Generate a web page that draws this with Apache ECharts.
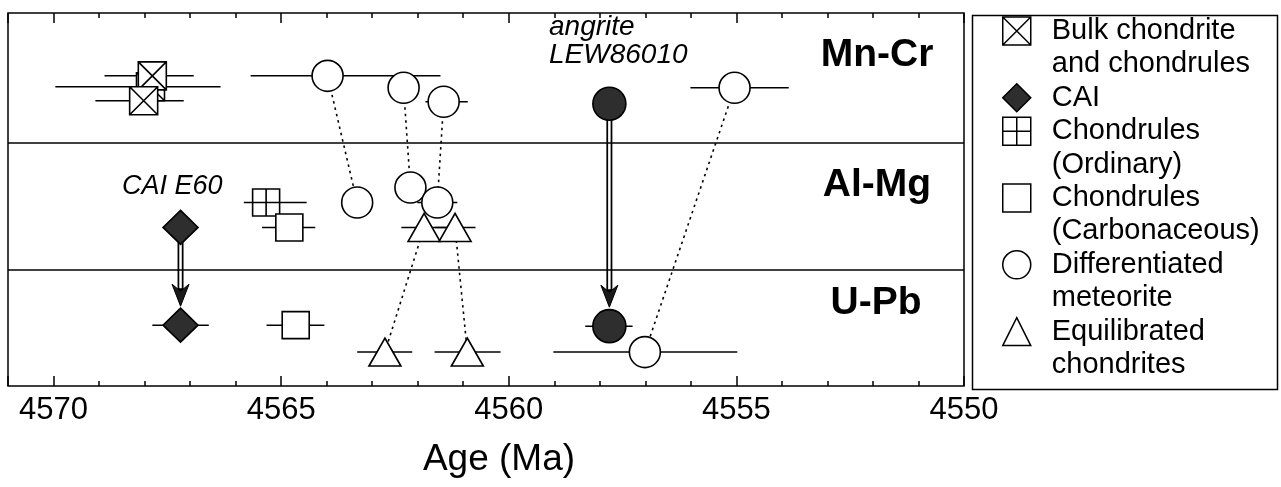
<!DOCTYPE html>
<html><head><meta charset="utf-8">
<script src="https://cdn.jsdelivr.net/npm/echarts@6/dist/echarts.min.js"></script>
<style>html,body{margin:0;padding:0;background:#fff}#c{width:1281px;height:487px}</style>
</head><body><div id="c"></div>
<script>
const FONT = '"Liberation Sans", Arial, Helvetica, sans-serif';

// ---- axis ----
const ageMin = 4550, ageMax = 4571;
const majorStep = 5, minorStep = 1;
const tickLabels = [4550, 4555, 4560, 4565, 4570];
const axisTitle = 'Age (Ma)';

// ---- bands (schematic vertical level, 0 = bottom of plot) ----
const bandNames = ['Mn-Cr', 'Al-Mg', 'U-Pb'];
const bandBoundaries = [116.5, 244.3];
const levelMax = 374;

// ---- points: [age, level, older end of error bar, younger end of error bar] ----
const bulkChondrite = [
  [4567.87, 300, 4569.96, 4566.33],
  [4567.83, 311, 4568.88, 4566.92],
  [4568.02, 286, 4569.08, 4567.14]
];
const cai = [
  [4567.21, 159, null, null],
  [4567.21, 61, 4567.83, 4566.59]
];
const chondrulesOrdinary = [
  [4565.33, 184, 4565.82, 4564.44]
];
const chondrulesCarbonaceous = [
  [4564.82, 159, 4565.42, 4564.25],
  [4564.68, 61, 4565.32, 4564.05]
];
const differentiated = [
  [4563.98, 311, 4565.67, 4561.50],
  [4562.31, 299, null, null],
  [4561.43, 285, 4561.83, 4560.90],
  [4555.04, 299, 4556.01, 4553.85],
  [4563.33, 184, null, null],
  [4562.16, 199, null, null],
  [4561.57, 184, 4562.01, 4561.13],
  [4557.01, 34, 4559.02, 4554.98]
];
const equilibrated = [
  [4561.86, 159, 4562.36, 4561.36],
  [4561.18, 159, 4561.62, 4560.73],
  [4562.72, 34, 4563.33, 4562.12],
  [4560.91, 34, 4561.63, 4560.18]
];
const angrite = [
  [4557.79, 283, null, null],
  [4557.79, 60, 4558.32, 4557.28]
];

// dotted links between the same sample in different systems
const dottedLinks = [
  [[4563.98, 311], [4563.33, 184]],
  [[4562.31, 299], [4562.16, 199]],
  [[4561.43, 285], [4561.57, 184]],
  [[4561.86, 159], [4562.72, 34]],
  [[4561.18, 159], [4560.91, 34]],
  [[4555.04, 299], [4557.01, 34]]
];
// arrows: [age, start level, tip level]
const arrows = [
  [4567.21, 159, 80],
  [4557.79, 283, 79]
];

const legendNames = ['Bulk chondrite and chondrules', 'CAI', 'Chondrules (Ordinary)',
  'Chondrules (Carbonaceous)', 'Differentiated meteorite', 'Equilibrated chondrites'];
const legendLines = [['Bulk chondrite', 'and chondrules'], ['CAI'], ['Chondrules', '(Ordinary)'],
  ['Chondrules', '(Carbonaceous)'], ['Differentiated', 'meteorite'], ['Equilibrated', 'chondrites']];
const annotationCAI = 'CAI E60';
const annotationAngrite = ['angrite', 'LEW86010'];

// ---------------------------------------------------------------
const allPoints = [].concat(bulkChondrite, cai, chondrulesOrdinary, chondrulesCarbonaceous,
  differentiated, equilibrated, angrite);
const errorBars = allPoints.filter(p => p[2] != null).map(p => [p[2], p[3], p[1]]);

const XBOX = 'path://M0,0H20V20H0Z M0,0L20,20 M20,0L0,20';
const GRIDBOX = 'path://M0,0H20V20H0Z M10,0V20 M0,10H20';
const DARK = '#2e2e2e';

function scatter(name, data, symbol, size, fill, z) {
  return {
    type: 'scatter', name: name, data: data.map(p => [p[0], p[1]]),
    symbol: symbol, symbolSize: size, z: z || 5, silent: true,
    itemStyle: { color: fill, borderColor: '#000', borderWidth: 1.6, opacity: 1 },
    emphasis: { disabled: true }
  };
}

const LH = 33.4;
const lineCenter = k => 31 + LH * k;
const firstLine = [0, 2, 3, 5, 7, 9];
const legends = legendNames.map((n, i) => {
  const two = legendLines[i].length > 1;
  const c = lineCenter(firstLine[i]);
  return {
    show: true, orient: 'vertical', left: 1002, top: two ? c - 1.5 * LH : c - LH / 2,
    padding: 0, itemWidth: 28, itemHeight: 28, itemGap: 0,
    selectedMode: false, data: [n],
    formatter: nm => {
      const lines = legendLines[legendNames.indexOf(nm)];
      const body = lines.map(l => '{s|}{t|' + l + '}').join('\n');
      return lines.length > 1 ? '{s|}\n' + body : body;
    },
    textStyle: {
      fontFamily: FONT, fontSize: 29, color: '#000', lineHeight: LH,
      rich: {
        s: { width: 16, lineHeight: LH },
        t: { fontFamily: FONT, fontSize: 29, color: '#000', lineHeight: LH }
      }
    },
    itemStyle: { borderWidth: 1.5, borderColor: '#000' }
  };
});

function xAxis(pos, step, tickLen, labels) {
  return {
    type: 'value', position: pos, min: ageMin, max: ageMax, interval: step, inverse: true,
    axisLine: { show: false },
    axisTick: { show: true, inside: true, length: tickLen, lineStyle: { color: '#000', width: 1.5 } },
    axisLabel: labels ? {
      show: true, fontFamily: FONT, fontSize: 31, color: '#000', margin: 9,
      formatter: v => tickLabels.indexOf(v) >= 0 ? String(v) : ''
    } : { show: false },
    splitLine: { show: false }, minorTick: { show: false }
  };
}

const chart = echarts.init(document.getElementById('c'));
chart.setOption({
  animation: false,
  backgroundColor: '#fff',
  grid: { left: 8, right: 317, top: 13, bottom: 101, show: true, borderColor: '#000', borderWidth: 1.5,
    backgroundColor: 'transparent', containLabel: false, outerBoundsMode: 'none' },
  xAxis: [
    Object.assign(xAxis('bottom', majorStep, 10, true), {
      name: axisTitle, nameLocation: 'middle', nameGap: 55,
      nameTextStyle: { fontFamily: FONT, fontSize: 37, color: '#000', padding: [0, 0, 0, 26] }
    }),
    xAxis('bottom', minorStep, 5, false),
    xAxis('top', majorStep, 10, false),
    xAxis('top', minorStep, 5, false)
  ],
  yAxis: { type: 'value', min: 0, max: levelMax, show: false },
  legend: legends,
  series: [
    {
      type: 'lines', coordinateSystem: 'cartesian2d', z: 1, silent: true,
      data: dottedLinks.map(l => ({ coords: l })),
      lineStyle: { color: '#000', width: 1.6, type: [2.5, 4], opacity: 1 },
      markLine: {
        silent: true, symbol: 'none', label: { show: false },
        lineStyle: { color: '#000', width: 1.5, type: 'solid' },
        data: bandBoundaries.map(b => ({ yAxis: b }))
      }
    },
    {
      type: 'custom', z: 2, silent: true, data: errorBars, encode: { x: [0, 1], y: 2 },
      renderItem: (params, api) => {
        const a = api.coord([api.value(0), api.value(2)]);
        const b = api.coord([api.value(1), api.value(2)]);
        return { type: 'line', shape: { x1: a[0], y1: a[1], x2: b[0], y2: b[1] },
          style: { stroke: '#000', lineWidth: 1.5 } };
      }
    },
    {
      type: 'custom', z: 3, silent: true, data: arrows, encode: { x: 0, y: [1, 2] },
      renderItem: (params, api) => {
        const s = api.coord([api.value(0), api.value(1)]);
        const t = api.coord([api.value(0), api.value(2)]);
        const x = t[0], hl = 22, hw = 8.5, notch = 7;
        const se = t[1] - hl + notch;
        return { type: 'group', children: [
          { type: 'line', shape: { x1: x, y1: s[1], x2: x, y2: se }, style: { stroke: '#000', lineWidth: 6 } },
          { type: 'line', shape: { x1: x, y1: s[1], x2: x, y2: se - 3 }, style: { stroke: '#fff', lineWidth: 2.5 } },
          { type: 'polygon', shape: { points: [[x, t[1]], [x - hw, t[1] - hl], [x, se], [x + hw, t[1] - hl]] },
            style: { fill: '#1a1a1a', stroke: '#000', lineWidth: 1 } }
        ] };
      }
    },
    scatter(legendNames[0], bulkChondrite, XBOX, 28, '#fff'),
    scatter(legendNames[1], cai, 'diamond', [35, 34], DARK),
    scatter(legendNames[2], chondrulesOrdinary, GRIDBOX, 27, '#fff'),
    scatter(legendNames[3], chondrulesCarbonaceous, 'rect', 27, '#fff'),
    scatter(legendNames[5], equilibrated, 'triangle', [32, 28], '#fff'),
    scatter(legendNames[4], differentiated, 'circle', 31, '#fff'),
    scatter('angrite LEW86010', angrite, 'circle', 33, DARK)
  ],
  graphic: [
    { type: 'rect', left: 970, top: 13, shape: { width: 305, height: 374 },
      style: { fill: 'none', stroke: '#000', lineWidth: 1.5 }, silent: true },
    { type: 'text', x: 877, y: 55, style: { text: bandNames[0], font: 'bold 39px ' + FONT, fill: '#000', textAlign: 'center', textVerticalAlign: 'middle' } },
    { type: 'text', x: 877, y: 185, style: { text: bandNames[1], font: 'bold 39px ' + FONT, fill: '#000', textAlign: 'center', textVerticalAlign: 'middle' } },
    { type: 'text', x: 876, y: 303, style: { text: bandNames[2], font: 'bold 39px ' + FONT, fill: '#000', textAlign: 'center', textVerticalAlign: 'middle' } },
    { type: 'text', x: 122, y: 186, style: { text: annotationCAI, font: 'italic 27px ' + FONT, fill: '#000', textAlign: 'left', textVerticalAlign: 'middle' } },
    { type: 'text', x: 549, y: 41, style: { text: annotationAngrite.join('\n'), font: 'italic 28px ' + FONT, lineHeight: 27.5, fill: '#000', textAlign: 'left', textVerticalAlign: 'middle' } }
  ]
});
</script></body></html>
